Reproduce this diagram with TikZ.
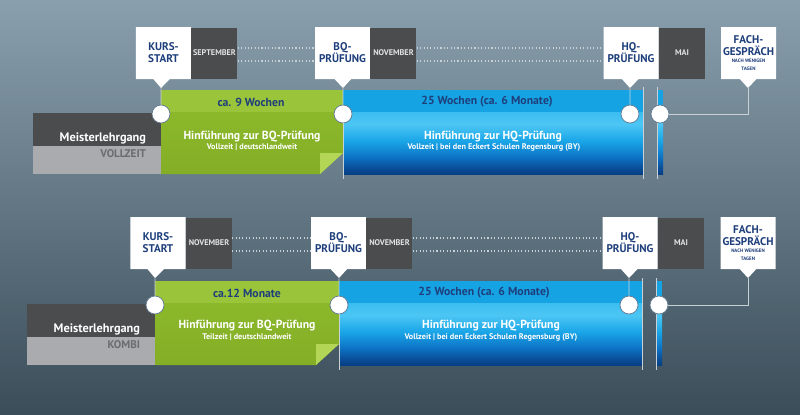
\documentclass[tikz,border=0pt]{standalone}
\usepackage{fontspec}
\setmainfont{PT Sans}
\usetikzlibrary{positioning, shapes.callouts}

\definecolor{bgtop}{HTML}{8A9FAD}
\definecolor{bgbot}{HTML}{3A4D59}
\definecolor{navy}{HTML}{1E3F7B}
\definecolor{darkbox}{HTML}{4B4C4E}
\definecolor{greybox}{HTML}{A9ABAE}
\definecolor{greytext}{HTML}{6A6C6F}
\definecolor{monthtext}{HTML}{E2E2E2}
\definecolor{greenband}{HTML}{9AC43A}
\definecolor{greentop}{HTML}{8BB82B}
\definecolor{greenbot}{HTML}{84AE26}
\definecolor{greenflap}{HTML}{B3D657}
\definecolor{blueband}{HTML}{16A3E4}
\definecolor{bluetop}{HTML}{3CBDF0}
\definecolor{bluelight}{HTML}{4CC6F4}
\definecolor{bluemid}{HTML}{1AA6E8}
\definecolor{bluedeep}{HTML}{0D74C6}
\definecolor{bluedark}{HTML}{0A529E}
\definecolor{bluebot}{HTML}{073F84}
\definecolor{railcol}{HTML}{C9D1D6}
\definecolor{ringcol}{HTML}{627A92}

\pgfdeclareverticalshading{bluefall}{100bp}{color(0bp)=(bluebot); color(25bp)=(bluebot); color(31bp)=(bluedark); color(39bp)=(bluedeep); color(52bp)=(bluemid); color(65bp)=(bluelight); color(75bp)=(bluetop); color(100bp)=(bluetop)}

\begin{document}
\begin{tikzpicture}[x=0.03cm, y=-0.03cm,
    stagebox/.style={rectangle callout, fill=white, minimum width=1.65cm, minimum height=1.56cm, inner sep=0pt, align=center, callout pointer width=0.5cm, text=navy, font=\fontsize{9.5}{10.2}\selectfont\bfseries},
    monthbox/.style={rectangle, fill=darkbox, minimum width=1.38cm, minimum height=1.53cm, inner sep=0pt, text=monthtext, font=\fontsize{7}{8}\selectfont\bfseries},
    headbox/.style={rectangle, fill=darkbox, minimum width=3.84cm, inner xsep=0.45cm, inner ysep=0pt, text width=2.94cm, align=right, text height=0.855cm, text depth=0.135cm, text=white, font=\fontsize{10.5}{12}\selectfont\bfseries},
    modebox/.style={rectangle, fill=greybox, minimum width=3.84cm, inner xsep=0.45cm, inner ysep=0pt, text width=2.94cm, align=right, text height=0.33cm, text depth=0.51cm, text=greytext, font=\fontsize{9.5}{10}\selectfont\bfseries},
    ring/.style={circle, fill=white, draw=ringcol, line width=0.6pt, minimum size=0.54cm, inner sep=0pt},
    spanlabel/.style={text=navy, font=\fontsize{10}{11}\selectfont\bfseries},
    bartitle/.style={text=white, font=\fontsize{10}{11}\selectfont\bfseries},
    barsub/.style={text=white, font=\fontsize{7}{8}\selectfont\bfseries},
    railline/.style={draw=railcol, line width=0.8pt},
    dotline/.style={draw=railcol, dotted, line width=0.9pt}
]

% ==== Background ====
\useasboundingbox (0,0) rectangle (800,415);
\shade[top color=bgtop, bottom color=bgbot] (0,0) rectangle (800,415);

% ==== Row 1: Vollzeit ====
% bars
\fill[greenband] (161,90) rectangle (343,112);
\shade[top color=greentop, bottom color=greenbot] (161,112) -- (343,112) -- (343,153) -- (320,174) -- (161,174) -- cycle;
\fill[greenflap] (343,153) -- (320,153) -- (320,174) -- cycle;
\fill[blueband] (343,90) rectangle (643,112);
\shade[shading=bluefall] (343,112) rectangle (643,174);
\fill[blueband] (657,90) rectangle (663,112);
\shade[shading=bluefall] (657,112) rectangle (663,174);
\draw[railline] (643,87) -- (643,179);
\draw[railline] (657,87) -- (657,179);

% course label
\node[headbox] (head1) at (97,129.5) {Meisterlehrgang};
\node[modebox, below=0pt of head1] (mode1) {VOLLZEIT};

% milestones
\node[stagebox, callout absolute pointer={(161,88)}] (kurs1) at (163.5,53) {KURS-\\START};
\node[monthbox, right=0pt of kurs1] (sep1) {SEPTEMBER};
\node[stagebox, callout absolute pointer={(343,88)}] (bq1) at (342.5,53) {BQ-\\PRÜFUNG};
\node[monthbox, right=0pt of bq1] (nov1) {NOVEMBER};
\node[stagebox, callout absolute pointer={(630,88)}] (hq1) at (631,53) {HQ-\\PRÜFUNG};
\node[monthbox, right=0pt of hq1] (mai1) {MAI};
\node[stagebox, callout absolute pointer={(748,88)}] (fach1) at (748.5,53) {FACH-\\GESPRÄCH\\[-3.8pt]{\fontsize{4.2}{5}\selectfont NACH WENIGEN}\\[-3.8pt]{\fontsize{4.2}{5}\selectfont TAGEN}};

\draw[dotline] ([yshift=0.15cm]sep1.east) -- ([yshift=0.15cm]sep1.east -| bq1.west);
\draw[dotline] ([yshift=-0.24cm]sep1.east) -- ([yshift=-0.24cm]sep1.east -| bq1.west);
\draw[dotline] ([yshift=0.15cm]nov1.east) -- ([yshift=0.15cm]nov1.east -| hq1.west);
\draw[dotline] ([yshift=-0.24cm]nov1.east) -- ([yshift=-0.24cm]nov1.east -| hq1.west);

% rings and ties
\node[ring] (start1) at (161,114) {};
\node[ring] (bqr1) at (343,114) {};
\node[ring] (hqr1) at (630,114) {};
\node[ring] (end1) at (660,114) {};
\coordinate (bqfoot1) at (343,179);
\draw[railline] (kurs1.pointer) -- (start1);
\draw[railline] (bq1.pointer) -- (bqr1);
\draw[railline] (bqr1) -- (bqfoot1);
\draw[railline] (hq1.pointer) -- (hqr1);
\draw[railline] (fach1.pointer) |- (end1);

% bar texts
\node[spanlabel] (span1) at (251,102) {ca. 9 Wochen};
\node[bartitle] (bqt1) at (252,137) {Hinführung zur BQ-Prüfung};
\node[barsub] (bqs1) at (252,147.5) {Vollzeit | deutschlandweit};
\node[spanlabel] (span2) at (487,102) {25 Wochen (ca. 6 Monate)};
\node[bartitle] (hqt1) at (493,137) {Hinführung zur HQ-Prüfung};
\node[barsub] (hqs1) at (494,147.5) {Vollzeit | bei den Eckert Schulen Regensburg (BY)};

% ==== Row 2: Kombi ====
% bars
\fill[greenband] (155,281) rectangle (339,303);
\shade[top color=greentop, bottom color=greenbot] (155,303) -- (339,303) -- (339,344) -- (316,365) -- (155,365) -- cycle;
\fill[greenflap] (339,344) -- (316,344) -- (316,365) -- cycle;
\fill[blueband] (339,281) rectangle (642,303);
\shade[shading=bluefall] (339,303) rectangle (642,365);
\fill[blueband] (656,281) rectangle (662,303);
\shade[shading=bluefall] (656,303) rectangle (662,365);
\draw[railline] (642,278) -- (642,370);
\draw[railline] (656,278) -- (656,370);

% course label
\node[headbox] (head2) at (91,320.5) {Meisterlehrgang};
\node[modebox, below=0pt of head2] (mode2) {KOMBI};

% milestones
\node[stagebox, callout absolute pointer={(155,278)}] (kurs2) at (158,243) {KURS-\\START};
\node[monthbox, right=0pt of kurs2] (nov2) {NOVEMBER};
\node[stagebox, callout absolute pointer={(339,278)}] (bq2) at (338.5,243) {BQ-\\PRÜFUNG};
\node[monthbox, right=0pt of bq2] (nov3) {NOVEMBER};
\node[stagebox, callout absolute pointer={(629,278)}] (hq2) at (630,243) {HQ-\\PRÜFUNG};
\node[monthbox, right=0pt of hq2] (mai2) {MAI};
\node[stagebox, callout absolute pointer={(748,278)}] (fach2) at (748,243) {FACH-\\GESPRÄCH\\[-3.8pt]{\fontsize{4.2}{5}\selectfont NACH WENIGEN}\\[-3.8pt]{\fontsize{4.2}{5}\selectfont TAGEN}};

\draw[dotline] ([yshift=0.15cm]nov2.east) -- ([yshift=0.15cm]nov2.east -| bq2.west);
\draw[dotline] ([yshift=-0.24cm]nov2.east) -- ([yshift=-0.24cm]nov2.east -| bq2.west);
\draw[dotline] ([yshift=0.15cm]nov3.east) -- ([yshift=0.15cm]nov3.east -| hq2.west);
\draw[dotline] ([yshift=-0.24cm]nov3.east) -- ([yshift=-0.24cm]nov3.east -| hq2.west);

% rings and ties
\node[ring] (start2) at (155,305) {};
\node[ring] (bqr2) at (339,305) {};
\node[ring] (hqr2) at (629,305) {};
\node[ring] (end2) at (659,305) {};
\coordinate (bqfoot2) at (339,370);
\draw[railline] (kurs2.pointer) -- (start2);
\draw[railline] (bq2.pointer) -- (bqr2);
\draw[railline] (bqr2) -- (bqfoot2);
\draw[railline] (hq2.pointer) -- (hqr2);
\draw[railline] (fach2.pointer) |- (end2);

% bar texts
\node[spanlabel] (span3) at (247,293) {ca.12 Monate};
\node[bartitle] (bqt2) at (247,326) {Hinführung zur BQ-Prüfung};
\node[barsub] (bqs2) at (247,337) {Teilzeit | deutschlandweit};
\node[spanlabel] (span4) at (484,293) {25 Wochen (ca. 6 Monate)};
\node[bartitle] (hqt2) at (491,326) {Hinführung zur HQ-Prüfung};
\node[barsub] (hqs2) at (491,337) {Vollzeit | bei den Eckert Schulen Regensburg (BY)};

\end{tikzpicture}
\end{document}
